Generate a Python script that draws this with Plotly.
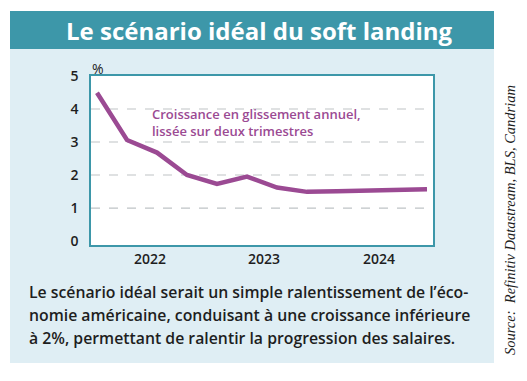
import plotly.graph_objects as go

# ---- data ----
quarters = list(range(12))
growth = [4.49, 3.06, 2.68, 2.00, 1.73, 1.95, 1.62, 1.49, 1.51, 1.53, 1.55, 1.57]
year_tick_pos = [1.77, 5.57, 9.40]
year_labels = ["2022", "2023", "2024"]
y_ticks = [0, 1, 2, 3, 4, 5]
grid_levels = [1, 2, 3, 4]
body_lines = [
    "Le scénario idéal serait un simple ralentissement de l’éco-",
    "nomie américaine, conduisant à une croissance inférieure",
    "à 2%, permettant de ralentir la progression des salaires.",
]

W, H = 527, 381
L, R, T, B = 91, 433, 76, 245  # plot area in pixels


def px(x):
    return (x - L) / (R - L)


def py(y):
    return (B - y) / (B - T)


TEAL = "#3d97a9"
PANEL = "#dfeef4"
PURPLE = "#9b4a93"
DARK = "#1e1e1e"

fig = go.Figure()
fig.add_trace(go.Scatter(
    x=quarters, y=growth, mode="lines",
    line=dict(color=PURPLE, width=4.5),
    hoverinfo="skip", showlegend=False,
))

shapes = [
    dict(type="rect", xref="paper", yref="paper", x0=px(10), x1=px(494), y0=py(363), y1=py(49),
         fillcolor=PANEL, line=dict(width=0), layer="below"),
    dict(type="rect", xref="paper", yref="paper", x0=px(10), x1=px(494), y0=py(49), y1=py(11),
         fillcolor=TEAL, line=dict(width=0), layer="below"),
    dict(type="rect", xref="paper", yref="paper", x0=0, x1=1, y0=0, y1=1,
         fillcolor="white", line=dict(width=0), layer="below"),
]
for g in grid_levels:
    shapes.append(dict(type="line", xref="paper", yref="y", x0=0, x1=1, y0=g, y1=g,
                       line=dict(color="#bfc4c6", width=1.2, dash="dash"), layer="below"))

annotations = [
    dict(text="<b>Le scénario idéal du soft landing</b>", xref="paper", yref="paper",
         x=px(259), y=py(31), xanchor="center", yanchor="middle", showarrow=False,
         font=dict(family="Open Sans", size=24, color="white", weight=800)),
    dict(text="%", xref="paper", yref="paper", x=px(98), y=py(68), xanchor="center",
         yanchor="middle", showarrow=False, font=dict(family="Open Sans", size=14, color=DARK)),
    dict(text="Croissance en glissement annuel,<br>lissée sur deux trimestres",
         xref="paper", yref="paper", x=px(150), y=py(122), xanchor="left", yanchor="middle",
         align="left", showarrow=False,
         font=dict(family="Open Sans", size=13, color=PURPLE, weight=600)),
    dict(text="<i>Source:  Refinitiv Datastream, BLS, Candriam</i>", xref="paper", yref="paper",
         x=px(510), y=py(220), xanchor="center", yanchor="middle", textangle=-90,
         showarrow=False, font=dict(family="Liberation Serif", size=14.5, color=DARK)),
]
for i, line in enumerate(body_lines):
    annotations.append(dict(
        text=line, xref="paper", yref="paper", x=px(27), y=py(292 + 23 * i),
        xanchor="left", yanchor="middle", align="left", showarrow=False,
        font=dict(family="Open Sans", size=15.8, color=DARK, weight=600)))

fig.update_layout(
    width=W, height=H,
    margin=dict(l=L, r=W - R, t=T, b=H - B, pad=0),
    paper_bgcolor="white", plot_bgcolor="white",
    shapes=shapes, annotations=annotations,
    xaxis=dict(range=[-0.2, 11.2], tickvals=year_tick_pos, ticktext=year_labels,
               showgrid=False, zeroline=False, showline=True, mirror=True,
               linecolor=TEAL, linewidth=1.5, ticks="",
               tickfont=dict(family="Open Sans", size=14, color=DARK, weight=600)),
    yaxis=dict(range=[-0.12, 5.0], tickvals=y_ticks, showgrid=False, zeroline=False,
               showline=True, mirror=True, linecolor=TEAL, linewidth=1.5, ticks="",
               ticklabelstandoff=8,
               tickfont=dict(family="Open Sans", size=14, color=DARK, weight=600)),
)

fig.write_html("out.html", config={"displayModeBar": False},
               post_script="document.body.style.margin='0';")
